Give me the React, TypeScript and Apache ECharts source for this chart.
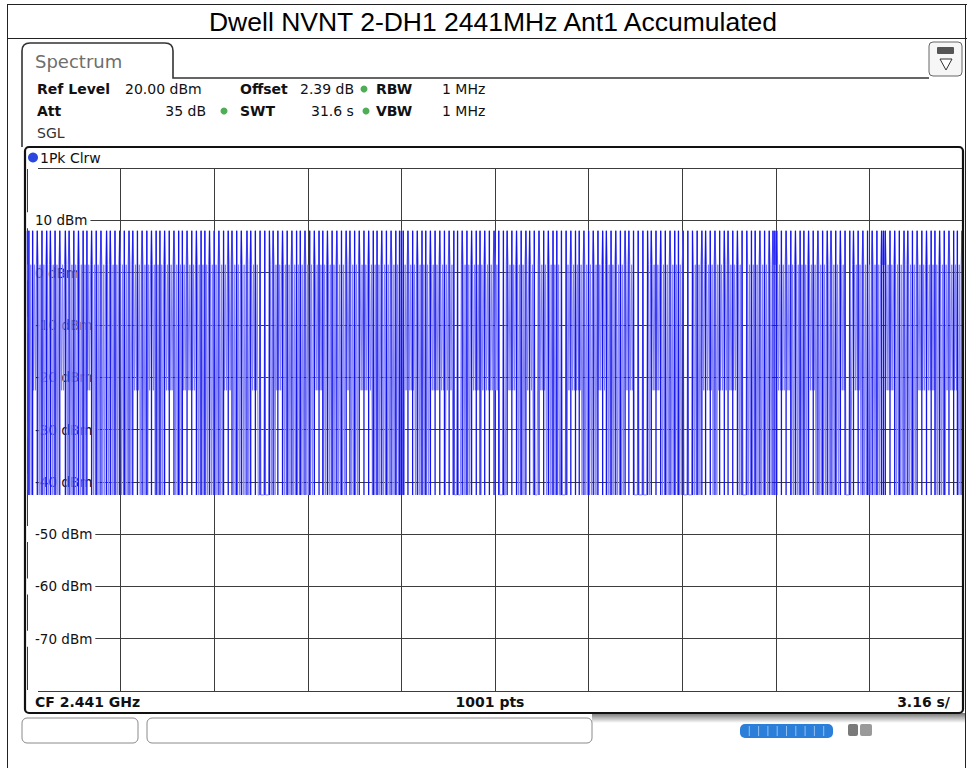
import React, { useEffect, useRef } from "react";
import * as echarts from "echarts";

// ---------- data ----------
const TITLE = "Dwell NVNT 2-DH1 2441MHz Ant1 Accumulated";
const SWEEP_POINTS = 1001; // trace points, index 0..1000 (31.6 s sweep)
const X_RANGE = [0, 1000];
const X_STEP = 100;
const Y_RANGE = [-80, 20];
const Y_STEP = 10;
// trace levels in dBm
const PEAK_DBM = 8;
const PLATEAU_DBM = 1.5;
const MID_DBM = -22.5;
const FLOOR_DBM = -42.5;

// stretches (point index) where the dense trace only falls to about -22.5 dBm
const midSegments: number[][] = [
  [6, 10], [35, 41], [65, 69], [113, 120], [131, 136], [147, 155], [166, 180],
  [211, 219], [238, 246], [266, 273], [307, 315], [340, 345], [355, 368],
  [404, 414], [430, 446], [449, 455], [475, 483], [487, 505], [511, 521],
  [534, 553], [578, 591], [610, 619], [639, 647], [668, 676], [720, 732],
  [738, 760], [803, 815], [834, 841], [870, 890], [919, 927], [951, 969], [983, 994],
];
// stretches where the trace rests on the noise floor between pulses
const gapSegments: number[][] = [
  [247, 259], [455, 463], [505, 511], [541, 545], [570, 577], [648, 663],
  [701, 711], [763, 768], [875, 880],
];
// point indices of the pulses reaching the peak level
const pulseIdx: number[] = [
  0, 2, 6, 11, 16, 21, 25, 30, 35, 41, 45, 50, 55, 60, 64, 69, 74, 79, 85, 89, 94, 99,
  104, 109, 113, 118, 123, 128, 133, 138, 142, 147, 152, 157, 162, 166,
  171, 176, 181, 186, 190, 195, 200, 205, 210, 215, 219, 224, 229, 235, 239, 244, 249,
  254, 259, 263, 268, 273, 278, 283, 288, 292, 297, 302, 307, 312, 316, 321, 326, 331, 336,
  341, 345, 350, 355, 360, 365, 370, 374, 379, 384, 389, 394, 398, 400, 402, 407, 412,
  417, 422, 426, 431, 436, 441, 446, 451, 456, 460, 465, 470, 475, 480, 484, 489, 494, 499, 504,
  509, 513, 518, 523, 528, 533, 537, 542, 547, 552, 557, 562, 566, 571, 576, 581, 586, 590,
  595, 600, 605, 610, 615, 619, 624, 629, 634, 639, 643, 648, 653, 658, 663, 667,
  672, 677, 682, 687, 692, 696, 701, 706, 711, 716, 721, 725, 730, 735, 740, 745, 749, 754,
  759, 764, 769, 774, 778, 783, 788, 793, 797, 799, 801, 806, 811, 816, 821, 826, 830, 835,
  840, 845, 850, 855, 859, 864, 869, 874, 879, 883, 888, 893, 898, 903, 908, 913, 915, 917,
  922, 927, 932, 937, 941, 946, 951, 956, 961, 966, 970, 975, 980, 985, 990, 994, 999,
];

const LIGHT = "#8282f8";
const DARK = "#1414f0";
const UI_FONT = "DejaVu Sans, Verdana, sans-serif";

function inSeg(segs: number[][], i: number) {
  return segs.some((s) => i >= s[0] && i <= s[1]);
}

function buildTrace() {
  const pulses = new Set(pulseIdx);
  const out: number[][] = [];
  for (let i = 0; i < SWEEP_POINTS; i++) {
    let v: number;
    if (pulses.has(i)) v = PEAK_DBM;
    else if (inSeg(gapSegments, i)) v = FLOOR_DBM;
    else if (i % 2 === 0) v = PLATEAU_DBM;
    else v = inSeg(midSegments, i) ? MID_DBM : FLOOR_DBM;
    out.push([i, v]);
  }
  return out;
}

function txt(x: number, y: number, text: string, o: any = {}) {
  return {
    type: "text",
    x,
    y,
    z: 100,
    silent: true,
    style: {
      text,
      fill: o.fill || "#111",
      fontSize: o.size || 14,
      fontFamily: o.family || UI_FONT,
      fontWeight: o.weight || "normal",
      align: o.align || "left",
      verticalAlign: "middle",
      textAlign: o.align || "left",
      textVerticalAlign: "middle",
    },
  };
}

function dot(cx: number, cy: number, r: number, fill: string) {
  return { type: "circle", z: 100, silent: true, shape: { cx, cy, r }, style: { fill } };
}

function line(x1: number, y1: number, x2: number, y2: number, stroke: string, lw = 1) {
  return { type: "line", z: 100, silent: true, shape: { x1, y1, x2, y2 }, style: { stroke, lineWidth: lw } };
}

export default function App() {
  const ref = useRef<HTMLDivElement>(null);

  useEffect(() => {
    if (!ref.current) return;
    echarts.graphic.registerShape(
      "specTab",
      echarts.graphic.extendPath(
        "M22 147 L22 51 Q22 43 30 43 L165 43 Q173 43 173 51 L173 78 L929 78",
        {}
      ) as any
    );
    const chart = echarts.init(ref.current, undefined, { renderer: "svg" });
    const trace = buildTrace();

    const progressSegs: any[] = [];
    for (let k = 1; k < 10; k++) {
      progressSegs.push(line(740 + k * 9.3, 726, 740 + k * 9.3, 736, "#8fc0f0", 1));
    }

    const graphics: any[] = [
      // outer frame of the report table
      line(7, 4.5, 967, 4.5, "#222"),
      line(7.5, 4, 7.5, 768, "#222"),
      line(965.5, 4, 965.5, 768, "#222"),
      line(7, 38.5, 967, 38.5, "#222"),
      txt(493, 22, TITLE, { size: 26.5, family: "Liberation Sans, Arial, sans-serif", fill: "#000", align: "center" }),
      // tab + panel outline
      { type: "specTab", z: 100, silent: true, style: { fill: null, stroke: "#333", lineWidth: 1.6 } },
      txt(35, 61, "Spectrum", { size: 18, fill: "#6e6e6e" }),
      // top-right icon
      { type: "rect", z: 100, silent: true, shape: { x: 929, y: 42, width: 33, height: 34, r: 4 }, style: { fill: "#f6f6f6", stroke: "#666", lineWidth: 1 } },
      { type: "rect", z: 101, silent: true, shape: { x: 937, y: 47, width: 17, height: 7, r: 1 }, style: { fill: "#555" } },
      line(941, 48, 941, 53, "#ddd"), line(945, 48, 945, 53, "#ddd"), line(949, 48, 949, 53, "#ddd"),
      { type: "polygon", z: 101, silent: true, shape: { points: [[940, 59], [952, 59], [946, 70]] }, style: { fill: "#fff", stroke: "#333", lineWidth: 1 } },
      // settings rows
      txt(37, 89, "Ref Level", { weight: "bold" }),
      txt(125, 89, "20.00 dBm"),
      txt(240, 89, "Offset", { weight: "bold" }),
      txt(300, 89, "2.39 dB"),
      dot(364, 89, 3.5, "#4fae55"),
      txt(376, 89, "RBW", { weight: "bold" }),
      txt(442, 89, "1 MHz"),
      txt(37, 111, "Att", { weight: "bold" }),
      txt(206, 111, "35 dB", { align: "right" }),
      dot(224, 111, 3.5, "#4fae55"),
      txt(240, 111, "SWT", { weight: "bold" }),
      txt(311, 111, "31.6 s"),
      dot(366, 111, 3.5, "#4fae55"),
      txt(376, 111, "VBW", { weight: "bold" }),
      txt(442, 111, "1 MHz"),
      txt(37, 133, "SGL", { fill: "#333" }),
      // diagram frame
      { type: "rect", z: 100, silent: true, shape: { x: 25, y: 147, width: 938, height: 566, r: 4 }, style: { fill: null, stroke: "#111", lineWidth: 2.2 } },
      dot(33, 157.5, 5, "#2a48e0"),
      txt(40, 157.5, "1Pk Clrw", { size: 14 }),
      // footer
      txt(35, 702, "CF 2.441 GHz", { weight: "bold" }),
      txt(490, 702, "1001 pts", { weight: "bold", align: "center" }),
      txt(950, 702, "3.16 s/", { weight: "bold", align: "right" }),
      // status bar below
      {
        type: "rect", z: 99, silent: true, shape: { x: 592, y: 713, width: 373, height: 10 },
        style: {
          fill: new (echarts.graphic as any).LinearGradient(0, 0, 0, 1, [
            { offset: 0, color: "rgba(0,0,0,0.55)" },
            { offset: 1, color: "rgba(0,0,0,0)" },
          ]),
        },
      },
      { type: "rect", z: 100, silent: true, shape: { x: 22, y: 718, width: 116, height: 25, r: 5 }, style: { fill: "#fff", stroke: "#8a8a8a", lineWidth: 1 } },
      { type: "rect", z: 100, silent: true, shape: { x: 147, y: 718, width: 445, height: 25, r: 5 }, style: { fill: "#fff", stroke: "#8a8a8a", lineWidth: 1 } },
      { type: "rect", z: 100, silent: true, shape: { x: 740, y: 724, width: 93, height: 14, r: 5 }, style: { fill: "#2c7fd9" } },
      ...progressSegs,
      { type: "rect", z: 100, silent: true, shape: { x: 848, y: 724, width: 10, height: 12, r: 2 }, style: { fill: "#7a7a7a" } },
      { type: "rect", z: 100, silent: true, shape: { x: 860, y: 724, width: 12, height: 12, r: 2 }, style: { fill: "#9a9a9a" } },
    ];

    chart.setOption({
      animation: false,
      backgroundColor: "#ffffff",
      grid: { left: 27, top: 168, width: 936, height: 523, containLabel: false },
      xAxis: {
        type: "value",
        min: X_RANGE[0],
        max: X_RANGE[1],
        interval: X_STEP,
        axisLine: { show: false },
        axisTick: { show: false },
        axisLabel: { show: false },
        splitLine: { show: true, lineStyle: { color: "#3c3c3c", width: 1 } },
      },
      yAxis: {
        type: "value",
        min: Y_RANGE[0],
        max: Y_RANGE[1],
        interval: Y_STEP,
        axisLine: { show: false },
        axisTick: { show: false },
        axisLabel: {
          inside: true,
          margin: 0,
          color: "#111",
          fontSize: 13.5,
          fontFamily: UI_FONT,
          backgroundColor: "#ffffff",
          padding: [1, 3, 1, 8],
          formatter: (v: number) => (v === Y_RANGE[0] || v === Y_RANGE[1] ? "" : `${v} dBm`),
        },
        splitLine: { show: true, lineStyle: { color: "#3c3c3c", width: 1 } },
      },
      series: [
        {
          type: "line",
          data: trace,
          showSymbol: false,
          symbol: "none",
          silent: true,
          z: 2,
          lineStyle: { color: LIGHT, width: 1, join: "bevel" },
        },
        {
          type: "custom",
          z: 3,
          silent: true,
          clip: true,
          data: pulseIdx.map((p) => [p, PEAK_DBM, FLOOR_DBM]),
          encode: { x: 0, y: [1, 2] },
          renderItem: (_p: any, api: any) => {
            const x = api.value(0);
            const top = api.coord([x, api.value(1)]);
            const bot = api.coord([x, api.value(2)]);
            return {
              type: "line",
              shape: { x1: top[0], y1: top[1], x2: bot[0], y2: bot[1] },
              style: { stroke: DARK, lineWidth: 1.3 },
            };
          },
        },
      ],
      graphic: { elements: graphics },
    });

    return () => chart.dispose();
  }, []);

  return (
    <div
      ref={ref}
      style={{ position: "absolute", left: 0, top: 0, width: 967, height: 768, background: "#fff" }}
    />
  );
}
